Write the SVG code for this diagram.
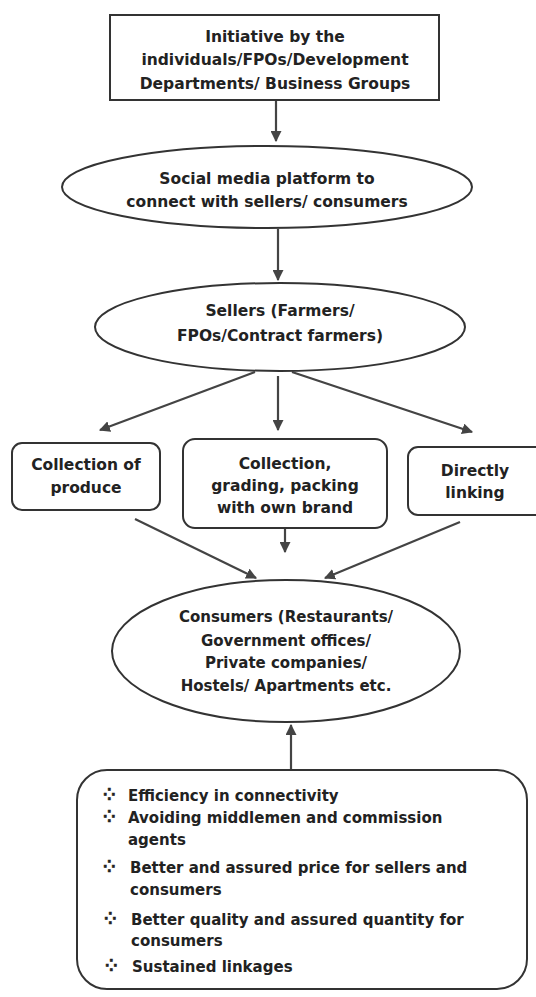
<svg xmlns="http://www.w3.org/2000/svg" width="536" height="997" viewBox="0 0 536 997">
<style>
text{font-family:"DejaVu Sans","Liberation Sans",sans-serif;font-weight:bold;fill:#222;font-size:15.5px}
.c{text-anchor:middle}
.b{font-size:15px}
.shape{fill:#fff;stroke:#333;stroke-width:2}
.conn line{stroke:#444;stroke-width:2.2;marker-end:url(#ah)}
.bul{font-size:15px;font-weight:bold;fill:#222;stroke:#222;stroke-width:0.6}
</style>
<defs>
<marker id="ah" viewBox="0 0 10 10" refX="9" refY="5" markerWidth="5" markerHeight="5" orient="auto" markerUnits="strokeWidth">
<path d="M0,0 L10,5 L0,10 z" fill="#444"/>
</marker>
</defs>
<rect width="536" height="997" fill="#fff"/>
<g class="conn">
<line x1="276" y1="100" x2="276" y2="141"/>
<line x1="278" y1="229" x2="278" y2="280"/>
<line x1="255" y1="372" x2="100" y2="430"/>
<line x1="278" y1="376" x2="278" y2="430"/>
<line x1="292" y1="372" x2="472" y2="432"/>
<line x1="135" y1="519" x2="256" y2="578"/>
<line x1="285" y1="529" x2="285" y2="552"/>
<line x1="460" y1="522" x2="325" y2="578"/>
<line x1="291" y1="770" x2="291" y2="725"/>
</g>
<g id="initiative">
<rect class="shape" x="110" y="15" width="329" height="85"/>
<text class="c" x="275" y="42">Initiative by the</text>
<text class="c" x="275" y="65">individuals/FPOs/Development</text>
<text class="c" x="275" y="89">Departments/ Business Groups</text>
</g>
<g id="social">
<ellipse class="shape" cx="267" cy="187" rx="205" ry="41"/>
<text class="c" x="267" y="184">Social media platform to</text>
<text class="c" x="267" y="207">connect with sellers/ consumers</text>
</g>
<g id="sellers">
<ellipse class="shape" cx="280" cy="327" rx="185" ry="44"/>
<text class="c" x="280" y="316">Sellers (Farmers/</text>
<text class="c" x="280" y="341">FPOs/Contract farmers)</text>
</g>
<g id="collection">
<rect class="shape" x="12" y="443" width="148" height="67" rx="10"/>
<text class="c" x="86" y="470">Collection of</text>
<text class="c" x="86" y="493">produce</text>
</g>
<g id="grading">
<rect class="shape" x="183" y="439" width="204" height="89" rx="12"/>
<text class="c" x="285" y="469">Collection,</text>
<text class="c" x="285" y="491">grading, packing</text>
<text class="c" x="285" y="513">with own brand</text>
</g>
<g id="direct">
<rect class="shape" x="408" y="447" width="140" height="68" rx="10" stroke-width="2.8"/>
<text class="c" x="475" y="476">Directly</text>
<text class="c" x="475" y="498">linking</text>
</g>
<g id="consumers">
<ellipse class="shape" cx="286" cy="651" rx="174" ry="71"/>
<text class="c b" x="286" y="622">Consumers (Restaurants/</text>
<text class="c b" x="286" y="646">Government offices/</text>
<text class="c b" x="286" y="668">Private companies/</text>
<text class="c b" x="286" y="691">Hostels/ Apartments etc.</text>
</g>
<g id="benefits">
<rect class="shape" x="77" y="770" width="450" height="219" rx="30"/>
<text class="bul" x="103" y="800">⁘</text>
<text class="b" x="128" y="801">Efficiency in connectivity</text>
<text class="bul" x="103" y="822">⁘</text>
<text class="b" x="128" y="823">Avoiding middlemen and commission</text>
<text class="b" x="128" y="845">agents</text>
<text class="bul" x="103" y="872">⁘</text>
<text class="b" x="130" y="873">Better and assured price for sellers and</text>
<text class="b" x="130" y="895">consumers</text>
<text class="bul" x="104" y="924">⁘</text>
<text class="b" x="131" y="925">Better quality and assured quantity for</text>
<text class="b" x="131" y="946">consumers</text>
<text class="bul" x="105" y="971">⁘</text>
<text class="b" x="132" y="972">Sustained linkages</text>
</g>
</svg>
